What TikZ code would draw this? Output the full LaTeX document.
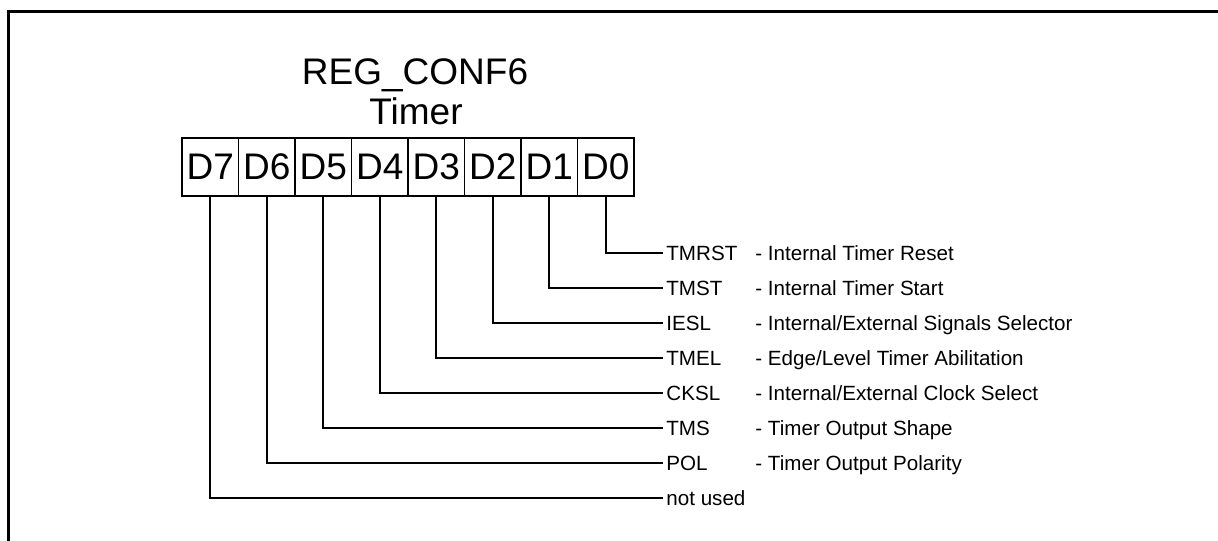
\documentclass[tikz,border=0pt]{standalone}
\usepackage{fontspec}
\setmainfont{Liberation Sans}
\begin{document}
\begin{tikzpicture}[x=0.5pt,y=-0.5pt]
	\tikzstyle{cell}=[draw=black, line width=0.75pt, minimum width=28.25pt, minimum height=29pt, inner sep=0pt, font=\fontsize{18.5}{20}\selectfont];
	\tikzstyle{heading}=[anchor=base, inner sep=0pt, font=\fontsize{18.5}{20}\selectfont];
	\tikzstyle{field}=[anchor=west, inner sep=1.5pt, text height=7pt, text depth=0pt, font=\fontsize{10.3}{12}\selectfont];
	\tikzstyle{wire}=[draw=black, line width=1pt];

	\useasboundingbox (0,0) rectangle (1218,540);
	\draw[line width=1.25pt] (8.5,560) |- (1240,11.5);

	\node[heading] (reg) at (415,84) {REG\_CONF6};
	\node[heading] (timer) at (416,125) {Timer};

	% register bits
	\node[cell] (b7) at (210.25,167) {D7};
	\node[cell] (b6) at (266.75,167) {D6};
	\node[cell] (b5) at (323.25,167) {D5};
	\node[cell] (b4) at (379.75,167) {D4};
	\node[cell] (b3) at (436.25,167) {D3};
	\node[cell] (b2) at (492.75,167) {D2};
	\node[cell] (b1) at (549.25,167) {D1};
	\node[cell] (b0) at (605.75,167) {D0};

	% field names
	\node[field] (tmrst) at (663,253) {TMRST};
	\node[field] (tmst) at (663,288) {TMST};
	\node[field] (iesl) at (663,323) {IESL};
	\node[field] (tmel) at (663,358) {TMEL};
	\node[field] (cksl) at (663,393) {CKSL};
	\node[field] (tms) at (663,428) {TMS};
	\node[field] (pol) at (663,463) {POL};
	\node[field] (unused) at (663,498) {not used};

	% descriptions
	\node[field] (tmrstd) at (752,253) {- Internal Timer Reset};
	\node[field] (tmstd) at (752,288) {- Internal Timer Start};
	\node[field] (iesld) at (752,323) {- Internal/External Signals Selector};
	\node[field] (tmeld) at (752,358) {- Edge/Level Timer Abilitation};
	\node[field] (cksld) at (752,393) {- Internal/External Clock Select};
	\node[field] (tmsd) at (752,428) {- Timer Output Shape};
	\node[field] (pold) at (752,463) {- Timer Output Polarity};

	\draw[wire] (b0.south) |- (tmrst.west);
	\draw[wire] (b1.south) |- (tmst.west);
	\draw[wire] (b2.south) |- (iesl.west);
	\draw[wire] (b3.south) |- (tmel.west);
	\draw[wire] (b4.south) |- (cksl.west);
	\draw[wire] (b5.south) |- (tms.west);
	\draw[wire] (b6.south) |- (pol.west);
	\draw[wire] (b7.south) |- (unused.west);
\end{tikzpicture}
\end{document}
